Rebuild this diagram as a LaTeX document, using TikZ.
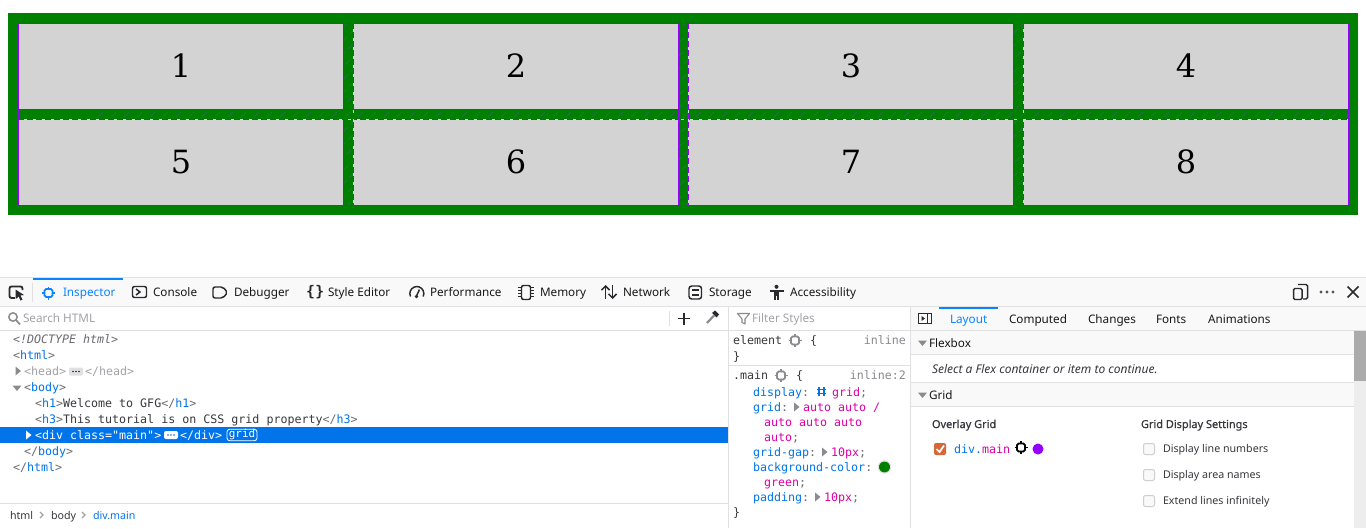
\documentclass[tikz,border=0pt]{standalone}
\usepackage{fontspec}
\usetikzlibrary{arrows.meta}
\setmainfont{Noto Sans}
\newfontfamily\uifont{Noto Sans}
\newfontfamily\uibold[FakeBold=0.7]{Noto Sans}
\newfontfamily\monofont{DejaVu Sans Mono}
\newfontfamily\digitfont{DejaVu Serif}
\definecolor{gridgreen}{HTML}{008000}
\definecolor{cellgray}{HTML}{D3D3D3}
\definecolor{ovl}{HTML}{9400FF}
\definecolor{hatch}{HTML}{2A7045}
\definecolor{bar}{HTML}{F9F9FA}
\definecolor{rule}{HTML}{E0E0E2}
\definecolor{act}{HTML}{0A84FF}
\definecolor{sel}{HTML}{0074E8}
\definecolor{tagb}{HTML}{0074E8}
\definecolor{pink}{HTML}{DD00A9}
\definecolor{punc}{HTML}{6A6A70}
\definecolor{ink}{HTML}{38383D}
\definecolor{dark}{HTML}{18181A}
\definecolor{dim}{HTML}{A3A3A8}
\definecolor{icn}{HTML}{2A2A2E}
\definecolor{gry}{HTML}{8A8A8F}
\definecolor{chkorange}{HTML}{D5673A}
\newcommand\uitext{\fontsize{8.8pt}{10pt}\selectfont\uifont}
\newcommand\mtext{\fontsize{8.74pt}{10pt}\selectfont\monofont}
\newcommand\pu[1]{\textcolor{punc}{#1}}
\newcommand\tb[1]{\textcolor{tagb}{#1}}
\newcommand\pk[1]{\textcolor{pink}{#1}}
\newcommand\tagopen[1]{\pu{<}\tb{#1}\pu{>}}
\newcommand\tagclose[1]{\pu{</}\tb{#1}\pu{>}}
\tikzset{
 x=0.75pt,y=-0.75pt,
 px/.style={line width=0.75pt},
 lbl/.style={anchor=base west,inner sep=0pt,outer sep=0pt},
 lblr/.style={anchor=base east,inner sep=0pt,outer sep=0pt},
 ui/.style={lbl,font=\uitext,text=dark},
 uidim/.style={lbl,font=\uitext,text=dim},
 uiact/.style={lbl,font=\uitext,text=act},
 uismall/.style={lbl,font=\fontsize{8pt}{10pt}\selectfont\uifont,text=ink},
 uibig/.style={lbl,font=\fontsize{8.2pt}{10pt}\selectfont\uibold,text=ink},
 mono/.style={lbl,font=\mtext,text=ink},
 monor/.style={lblr,font=\mtext,text=gry},
 cellbox/.style={fill=cellgray,minimum width=243.75pt,minimum height=64.5pt,inner sep=0pt,outer sep=0pt},
 digit/.style={inner sep=0pt,font=\fontsize{24pt}{28pt}\selectfont\digitfont,text=black},
 chk/.style={draw=rule!80!gry,fill=bar,line width=0.75pt,rounded corners=1.5pt},
 icon/.style={line width=1.1pt,draw=icn},
}
\newcommand\triR[3]{\fill[#3] (#1,#2) -- ++(0,9) -- ++(5.5,-4.5) -- cycle;}
\newcommand\triD[3]{\fill[#3] (#1,#2) -- ++(9,0) -- ++(-4.5,5.5) -- cycle;}
\newcommand\chip[4]{%
 \draw[#3,line width=#4,rounded corners=1.2pt] (#1-4,#2-4) rectangle (#1+4,#2+4);
 \draw[#3,line width=#4] (#1,#2-6.5)--(#1,#2-4) (#1,#2+4)--(#1,#2+6.5) (#1-6.5,#2)--(#1-4,#2) (#1+4,#2)--(#1+6.5,#2);}
\begin{document}
\begin{tikzpicture}
\useasboundingbox (0,0) rectangle (1366,528);
\fill[white] (0,0) rectangle (1366,528);
% ---------- rendered grid ----------
\fill[gridgreen] (8,13) rectangle (1358,215);
\foreach \n/\cx/\cy in {1/180.5/66,2/515.5/66,3/850.5/66,4/1185.5/66,5/180.5/162,6/515.5/162,7/850.5/162,8/1185.5/162}{
  \node[cellbox] (cell\n) at (\cx,\cy) {};
}
\foreach \n/\cx/\cy in {1/181/66,2/516/66,3/851/66,4/1186/66,5/181/162,6/516/162,7/851/162,8/1186/162}{
  \node[digit] (num\n) at (\cx,\cy) {\n};
}
% hatching in gaps
\begin{scope}
 \clip (18,109) rectangle (1348,119) (343,23) rectangle (353,205) (678,23) rectangle (688,205) (1013,23) rectangle (1023,205);
 \foreach \k in {0,13,...,1560}{
   \draw[hatch,px,dash pattern=on 5pt off 3pt] (\k,215) -- ++(200,-200);
 }
\end{scope}
% overlay lines
\draw[ovl,px] (18.5,23.5) rectangle (1348.5,205.5);
\draw[ovl,px] (18,109.5) -- (1348,109.5);
\draw[white!80!gridgreen,px] (18,119.5) -- (1348,119.5);
\draw[ovl,px,dash pattern=on 4.5pt off 2.25pt] (18,119.5) -- (1348,119.5);
\foreach \gx in {343,678,1013}{
  \draw[ovl,px] (\gx+.5,23) -- (\gx+.5,205);
  \draw[white!80!gridgreen,px] (\gx+10.5,23) -- (\gx+10.5,205);
  \draw[ovl,px,dash pattern=on 4.5pt off 2.25pt] (\gx+10.5,23) -- (\gx+10.5,205);
}
% ---------- devtools frame ----------
\fill[white] (0,277) rectangle (1366,528);
\fill[bar] (0,278) rectangle (1366,306);
\fill[bar] (911,307) rectangle (1366,330);
\fill[bar] (911,331) rectangle (1354,354);
\fill[bar] (911,383) rectangle (1354,406);
\fill[rule] (0,277) rectangle (1366,278);
\fill[rule] (0,306) rectangle (1366,307);
\fill[rule] (0,330) rectangle (1366,331);
\fill[rule] (728,307) rectangle (729,528);
\fill[rule] (910,307) rectangle (911,528);
\fill[rule] (729,365) rectangle (910,366);
\fill[rule] (911,354) rectangle (1354,355);
\fill[rule] (911,382) rectangle (1354,383);
\fill[rule] (911,406) rectangle (1354,407);
\fill[rule] (0,503) rectangle (728,504);
\fill[rule] (32,283) rectangle (33,302);
\fill[rule] (669,311) rectangle (670,326);
\fill[act] (33,278) rectangle (123,280);
\fill[act] (939,307) rectangle (998,309);
\fill[black!7] (1354,331) rectangle (1366,528);
\fill[black!33] (1354,331) rectangle (1366,381);
\fill[sel] (0,427) rectangle (728,443);
% ---------- toolbar icons ----------
\draw[icn,line width=1.4pt,rounded corners=1.5pt] (15,298) -- (9.5,298) -- (9.5,286.5) -- (22.5,286.5) -- (22.5,290);
\fill[icn] (15.5,289.5) -- (24,295) -- (20.5,295.5) -- (22.5,299.5) -- (20.5,300.5) -- (18.7,296.5) -- (15.8,299) -- cycle;
\chip{48.5}{293}{act}{1.3pt}
\draw[icon,rounded corners=1.5pt] (132.5,286.5) rectangle (146.5,297.5);
\draw[icon] (136,289) -- (140,292) -- (136,295);
\draw[icon,rounded corners=1.5pt] (213,287) -- (223,287) -- (227.5,292.5) -- (223,298) -- (213,298) -- cycle;
\node[lbl,font=\fontsize{11pt}{12pt}\selectfont\monofont\bfseries,text=icn] (bracesicon) at (306,296.5) {\{\hspace{0.5pt}\}};
\draw[icon] (410.5,296.5) arc (155:385:7);
\draw[icon] (416.5,296) -- (419.5,289.5);
\fill[icn] (416.5,296.5) circle (1.8);
\draw[icon,rounded corners=1.5pt] (521.5,285.5) rectangle (530.5,299.5);
\foreach \yy in {287.5,290.5,293.5,296.5}{
  \draw[icn,line width=.75pt] (518,\yy) -- (521,\yy) (531,\yy) -- (534,\yy);
}
\draw[icon,-{Straight Barb[length=3pt,width=6pt]}] (605.5,299) -- (605.5,285);
\draw[icon,-{Straight Barb[length=3pt,width=6pt]}] (612.5,285) -- (612.5,299);
\draw[icon,rounded corners=2pt] (689,286) rectangle (701.5,299);
\draw[icon] (692,290) -- (698.5,290) (692,295) -- (698.5,295);
\fill[icn] (776.5,286.8) circle (2);
\fill[icn] (769.5,289.5) rectangle (783.5,291.5);
\fill[icn] (773.8,291) rectangle (779.2,295.5);
\fill[icn] (773.8,295) rectangle (775.8,300);
\fill[icn] (777.2,295) rectangle (779.2,300);
% ---------- toolbar text ----------
\node[uiact] (tabInspector) at (63,296) {Inspector};
\node[ui] (tabConsole) at (153,296) {Console};
\node[ui] (tabDebugger) at (234,296) {Debugger};
\node[ui] (tabStyle) at (328,296) {Style Editor};
\node[ui] (tabPerf) at (430,296) {Performance};
\node[ui] (tabMemory) at (540,296) {Memory};
\node[ui] (tabNetwork) at (623,296) {Network};
\node[ui] (tabStorage) at (709,296) {Storage};
\node[ui] (tabAccess) at (790,296) {Accessibility};
% right toolbar icons
\draw[icon,rounded corners=1pt] (1298,284.5) -- (1307.5,284.5) -- (1307.5,299) -- (1303,299);
\draw[icon,rounded corners=1pt] (1293.5,288.5) rectangle (1302,299.5);
\foreach \dx in {1321,1327,1333}{\fill[icn!80] (\dx,292) circle (1.7);}
\draw[icn,line width=1.1pt] (1347.5,286.5) -- (1358.5,297.5) (1358.5,286.5) -- (1347.5,297.5);
% ---------- search row ----------
\draw[gry,line width=1.1pt] (13,317) circle (4.2);
\draw[gry,line width=1.3pt] (16,320) -- (20,324.5);
\node[uidim] (searchHtml) at (23,322) {Search HTML};
\draw[icn,line width=1.2pt] (684,312.5) -- (684,324.5) (678,318.5) -- (690,318.5);
\draw[gry,line width=1.6pt] (707,323) -- (714,315.5);
\fill[icn] (712,313) -- (715,310.5) -- (719,314.5) -- (716.5,317.5) -- cycle;
% ---------- markup tree ----------
\node[mono] (l1) at (13,343) {\textit{\pu{<!DOCTYPE html>}}};
\node[mono] (l2) at (13,359) {\tagopen{html}};
\triR{15.5}{366.5}{gry}
\node[mono,text=dim] (l3a) at (24,375) {<head>};
\fill[rule,rounded corners=1.5pt] (69,367.5) rectangle (83,375.5);
\foreach \dx in {73,76,79}{\fill[icn] (\dx,371.5) circle (0.9);}
\node[mono,text=dim] (l3b) at (85,375) {</head>};
\triD{12.5}{385.5}{gry}
\node[mono] (l4) at (24,391) {\tagopen{body}};
\node[mono] (l5) at (35,407) {\tagopen{h1}Welcome to GFG\tagclose{h1}};
\node[mono] (l6) at (35,423) {\tagopen{h3}This tutorial is on CSS grid property\tagclose{h3}};
\triR{26}{430.5}{white}
\node[mono,text=white] (l7a) at (35,439) {<div class="main">};
\fill[white,rounded corners=1.5pt] (164,431) rectangle (178,439);
\foreach \dx in {168,171,174}{\fill[sel] (\dx,435) circle (0.9);}
\node[mono,text=white] (l7b) at (180,439) {</div>};
\node[draw=white,line width=0.6pt,rounded corners=2pt,text=white,inner sep=0pt,minimum width=22.5pt,minimum height=8.6pt,font=\fontsize{8.2pt}{9pt}\selectfont\monofont] (gridbadge) at (242,435) {grid};
\node[mono] (l8) at (24,455) {\tagclose{body}};
\node[mono] (l9) at (13,471) {\tagclose{html}};
% breadcrumbs
\node[uismall] (crumb1) at (10,519) {html};
\node[uismall] (crumb2) at (51,519) {body};
\node[uismall,text=tagb] (crumb3) at (93,519) {div.main};
\draw[dim,line width=1pt] (40,512) -- (43,515) -- (40,518);
\draw[dim,line width=1pt] (82,512) -- (85,515) -- (82,518);
% ---------- rules panel ----------
\draw[gry,line width=.8pt,line join=round] (737.5,313.5) -- (749.5,313.5) -- (745,319) -- (745,324) -- (742,322.5) -- (742,319) -- cycle;
\node[uidim] (filterStyles) at (752,322) {Filter Styles};
\node[mono] (r1) at (733,344) {element};
\chip{795}{340.5}{gry}{1.4pt}
\node[mono] (r1b) at (810,344) {\{};
\node[monor] (r1c) at (906,344) {inline};
\node[mono] (r2) at (733,360) {\}};
\node[mono] (r3) at (733,379) {.main};
\chip{781}{375.5}{gry}{1.4pt}
\node[mono] (r3b) at (796,379) {\{};
\node[monor] (r3c) at (906,379) {inline:2};
\node[mono] (r4) at (753,396) {\tb{display}\pu{:}};
\draw[tagb,line width=.9pt] (817,389.5) -- (826,389.5) (817,393.5) -- (826,393.5) (819,387) -- (819,396) (824,387) -- (824,396);
\node[mono] (r4b) at (832,396) {\pk{grid}\pu{;}};
\node[mono] (r5) at (753,411) {\tb{grid}\pu{:}};
\triR{794}{402.5}{gry}
\node[mono] (r5b) at (803,411) {\pk{auto auto /}};
\node[mono] (r6) at (764,426) {\pk{auto auto auto}};
\node[mono] (r7) at (764,441) {\pk{auto}\pu{;}};
\node[mono] (r8) at (753,456) {\tb{grid-gap}\pu{:}};
\triR{822}{447.5}{gry}
\node[mono] (r8b) at (831,456) {\pk{10px}\pu{;}};
\node[mono] (r9) at (753,471) {\tb{background-color}\pu{:}};
\fill[gridgreen] (884.5,467) circle (5.7);
\draw[rule,px] (884.5,467) circle (6.2);
\node[mono] (r10) at (764,486) {\pk{green}\pu{;}};
\node[mono] (r11) at (753,501) {\tb{padding}\pu{:}};
\triR{815}{492.5}{gry}
\node[mono] (r11b) at (824,501) {\pk{10px}\pu{;}};
\node[mono] (r12) at (733,516) {\}};
% ---------- layout panel ----------
\draw[icn,line width=.8pt] (918.5,313.5) rectangle (931.5,323.5);
\draw[icn,line width=.8pt] (927.5,313.5) -- (927.5,323.5);
\fill[icn] (921.5,316) -- (921.5,321) -- (925,318.5) -- cycle;
\node[uiact] (tLayout) at (950,323) {Layout};
\node[ui] (tComputed) at (1009,323) {Computed};
\node[ui] (tChanges) at (1088,323) {Changes};
\node[ui] (tFonts) at (1156,323) {Fonts};
\node[ui] (tAnim) at (1208,323) {Animations};
\triD{918}{340.5}{gry}
\node[ui] (hFlex) at (929,347) {Flexbox};
\node[lbl,font=\fontsize{9pt}{10pt}\selectfont\uifont\itshape,text=ink] (flexmsg) at (932,373) {Select a Flex container or item to continue.};
\triD{918}{392.5}{gry}
\node[ui] (hGrid) at (929,399) {Grid};
\node[uibig] (hOverlay) at (932,428) {Overlay Grid};
\node[uibig] (hDisplay) at (1141,428) {Grid Display Settings};
\fill[chkorange,rounded corners=1.5pt] (934,443) rectangle (946,455);
\draw[white,line width=1.3pt] (936.5,449) -- (939.5,452) -- (944,445.5);
\node[mono] (gridsel) at (954,453) {\tb{div.}\pk{main}};
\chip{1021}{447.5}{black}{1.4pt}
\fill[ovl] (1038,449) circle (5.5);
\draw[chk] (1143.5,443.5) rectangle (1154.5,454.5);
\draw[chk] (1143.5,469.5) rectangle (1154.5,480.5);
\draw[chk] (1143.5,495.5) rectangle (1154.5,506.5);
\node[uismall] (opt1) at (1163,452) {Display line numbers};
\node[uismall] (opt2) at (1163,478) {Display area names};
\node[uismall] (opt3) at (1163,504) {Extend lines infinitely};
\end{tikzpicture}
\end{document}
